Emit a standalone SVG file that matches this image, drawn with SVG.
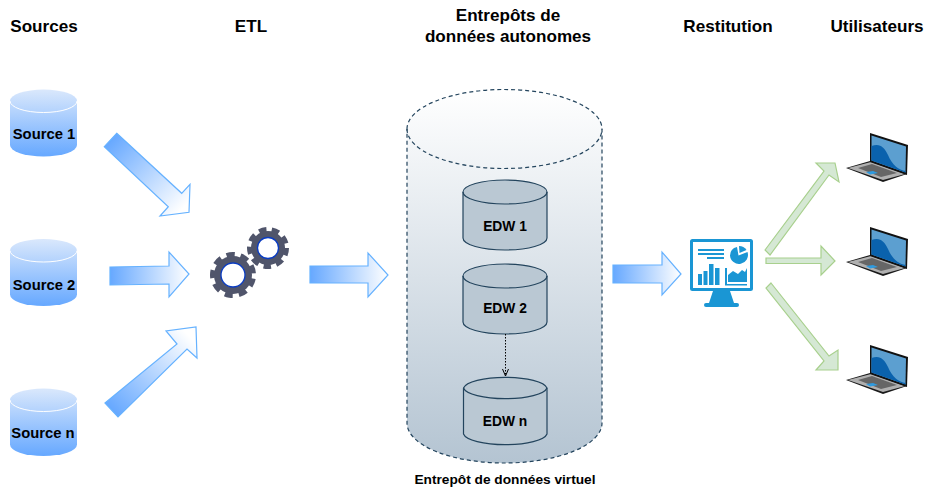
<svg xmlns="http://www.w3.org/2000/svg" width="927" height="488" viewBox="0 0 927 488">
<style>
text{font-family:"Liberation Sans",Arial,sans-serif;font-weight:bold;fill:#000;text-anchor:middle}
.h{font-size:17.100px}.s{font-size:14.800px}.e{font-size:13.800px}
.src{fill:url(#srcG)}.lip{fill:none;stroke:#fff;stroke-width:1}
.edw{fill:#bac8d3;stroke:#23445d;stroke-width:1.2}
.ga{fill:#d5e8d4;stroke:#a8d08d;stroke-width:1.2}
.ba{stroke:#66b2ff;stroke-width:1.2}
.gear{fill:#50556b}.gt{fill:none;stroke:#50556b;stroke-width:6}.hole{fill:#fff;stroke:#0a3cc2;stroke-width:1.3}
.mon{fill:#1a96d4}
</style>
<defs>
<linearGradient id="srcG" x1="0" y1="0" x2="0" y2="1"><stop offset="0" stop-color="#dae8fc"/><stop offset="1" stop-color="#66a8ff"/></linearGradient>
<linearGradient id="bigG" x1="0" y1="0" x2="0" y2="1"><stop offset="0" stop-color="#fff"/><stop offset="1" stop-color="#b4c4d2"/></linearGradient>
<linearGradient id="a1" gradientUnits="userSpaceOnUse" x1="110" y1="140" x2="182" y2="209"><stop offset="0" stop-color="#66a8ff"/><stop offset="1" stop-color="#fff"/></linearGradient>
<linearGradient id="a2" x1="0" y1="0" x2="1" y2="0"><stop offset="0" stop-color="#66a8ff"/><stop offset="1" stop-color="#fff"/></linearGradient>
<linearGradient id="a3" gradientUnits="userSpaceOnUse" x1="112" y1="410" x2="188" y2="335"><stop offset="0" stop-color="#66a8ff"/><stop offset="1" stop-color="#fff"/></linearGradient>
<marker id="op" markerUnits="userSpaceOnUse" markerWidth="8" markerHeight="8" refX="7" refY="4" orient="auto" viewBox="0 0 8 8"><path d="M0 1L7 4L0 7" fill="none" stroke="#000" stroke-width="1"/></marker>
<g id="laptop">
<path d="M846 168L870 161L907 174L883 182Z" fill="#1a1a1a"/>
<path d="M848 168L871 162L905 174L883 180Z" fill="#b0b0b0"/>
<path d="M858 168L872 164L897 173L881 177Z" fill="#666"/>
<path d="M866 172L873 171L878 173L870 174.500Z" fill="#2f9be0"/>
<path d="M870 133L908 145L907 175L870 162Z" fill="#111"/>
<path d="M871.500 135.500L906 146.500L905.500 172.500L871.500 160.500Z" fill="#5c9fd0"/>
<path d="M871.500 146C880 143 884 147 888 155C892 165 899 170 905.500 171L905.500 172.500L871.500 160.500Z" fill="#0a62ad"/>
</g>
</defs>

<g id="source1">
<path class="src" d="M10 101A33.500 11.500 0 0 1 77 101V145A33.500 11.500 0 0 1 10 145Z"/>
<path class="lip" d="M10 101A33.500 11.500 0 0 0 77 101"/>
<text class="s" x="44" y="139">Source 1</text>
</g>
<g id="source2">
<path class="src" d="M10 250.500A33.500 11.500 0 0 1 77 250.500V294.500A33.500 11.500 0 0 1 10 294.500Z"/>
<path class="lip" d="M10 250.500A33.500 11.500 0 0 0 77 250.500"/>
<text class="s" x="44" y="290">Source 2</text>
</g>
<g id="sourcen">
<path class="src" d="M10 400A33.500 11.500 0 0 1 77 400V444.500A33.500 11.500 0 0 1 10 444.500Z"/>
<path class="lip" d="M10 400A33.500 11.500 0 0 0 77 400"/>
<text class="s" x="43" y="438">Source n</text>
</g>

<g id="etl">
<circle class="gear" cx="233" cy="275" r="19"/>
<circle class="gt" cx="233" cy="275" r="20" stroke-dasharray="8 5.960" transform="rotate(10 233 275)"/>
<circle class="hole" cx="233" cy="275" r="12"/>
<circle class="gear" cx="268" cy="248" r="17"/>
<circle class="gt" cx="268" cy="248" r="18" stroke-dasharray="7.300 5.270"/>
<circle class="hole" cx="268" cy="248" r="10.500"/>
</g>

<g id="virtual">
<path d="M407 129A97.500 39.500 0 0 1 602 129V423A97.500 40 0 0 1 407 423Z" fill="url(#bigG)" stroke="#23445d" stroke-width="1.200" stroke-dasharray="4 3"/>
<path d="M407 129A97.500 39.500 0 0 0 602 129" fill="none" stroke="#23445d" stroke-width="1.200" stroke-dasharray="4 3"/>
<text x="505" y="484" style="font-size:13.700px">Entrepôt de données virtuel</text>
</g>
<g id="edw1">
<path class="edw" d="M463 192A42 12 0 0 1 547 192V238A42 12 0 0 1 463 238Z"/>
<path class="edw" style="fill:none" d="M463 192A42 12 0 0 0 547 192"/>
<text class="e" x="505" y="231">EDW 1</text>
</g>
<g id="edw2">
<path class="edw" d="M463 276A42 12 0 0 1 547 276V322A42 12 0 0 1 463 322Z"/>
<path class="edw" style="fill:none" d="M463 276A42 12 0 0 0 547 276"/>
<text class="e" x="505" y="313">EDW 2</text>
</g>
<g id="edwn">
<path class="edw" d="M463.500 388A42 12 0 0 1 547 388V434A42 12 0 0 1 463.500 434Z"/>
<path class="edw" style="fill:none" d="M463.500 388A42 12 0 0 0 547 388"/>
<text class="e" x="505" y="426">EDW n</text>
</g>

<g id="monitor">
<rect x="691.500" y="240.500" width="60" height="49" rx="1" fill="#fff" stroke="#1a96d4" stroke-width="3"/>
<rect class="mon" x="698" y="249" width="26" height="2"/><rect class="mon" x="698" y="253" width="26" height="2"/><rect class="mon" x="707" y="257" width="17" height="2"/>
<path class="mon" d="M730 255.500A9 9 0 1 0 747.500 252L738.500 255.500L737 247A9 9 0 0 0 730 255.500Z"/>
<path class="mon" d="M739 246A9 9 0 0 1 746.500 250L739.500 253Z"/>
<rect class="mon" x="698" y="274" width="4" height="11"/><rect class="mon" x="703.500" y="271" width="4" height="14"/><rect class="mon" x="709" y="264" width="4.500" height="21"/><rect class="mon" x="715" y="268" width="4.500" height="17"/>
<path class="mon" d="M727 268V284H747V285.500H725V268ZM728 282V275L733 271L738 274L742 270L745 272L747 268V282Z"/>
<path class="mon" d="M713 291H730L734 303H709Z"/>
<rect class="mon" x="704" y="303" width="35" height="4" rx="2"/>
</g>

<use id="user1" href="#laptop"/>
<use id="user2" href="#laptop" y="94"/>
<use id="user3" href="#laptop" y="212"/>

<g id="connectors">
<path class="ba" fill="url(#a1)" d="M116.700 133.300L181.700 193.300L190 184.300L189 212.300L160 216L168.300 206.700L104.300 146.700Z"/>
<path class="ba" fill="url(#a2)" d="M110 267L169 266V252L189 274L169 297V284L110 285Z"/>
<path class="ba" fill="url(#a3)" d="M105 403L177 344L166 331L196 327L197 358L187 349L118 417Z"/>
<path class="ba" fill="url(#a2)" d="M310 266H368V253L388 275L368 297V283H310Z"/>
<path class="ba" fill="url(#a2)" d="M613 265H662V252L681 274L662 295V283H613Z"/>
<path class="ga" d="M765 250L824 171L816 163L835 163L839 182L829 175L770 255Z"/>
<path class="ga" d="M766 258H821V246L835 261L821 275V263.500H766Z"/>
<path class="ga" d="M771 283L829 356L838 350V370H816L824 361L766 288Z"/>
<path d="M505.500 334V376" fill="none" stroke="#000" stroke-dasharray="1.500 1.500" marker-end="url(#op)"/>
</g>

<g id="headers">
<text class="h" x="44" y="32">Sources</text>
<text class="h" x="251" y="32">ETL</text>
<text class="h" x="508" y="21">Entrepôts de</text>
<text class="h" x="508" y="42">données autonomes</text>
<text class="h" x="728" y="32">Restitution</text>
<text class="h" x="877" y="32">Utilisateurs</text>
</g>
</svg>
